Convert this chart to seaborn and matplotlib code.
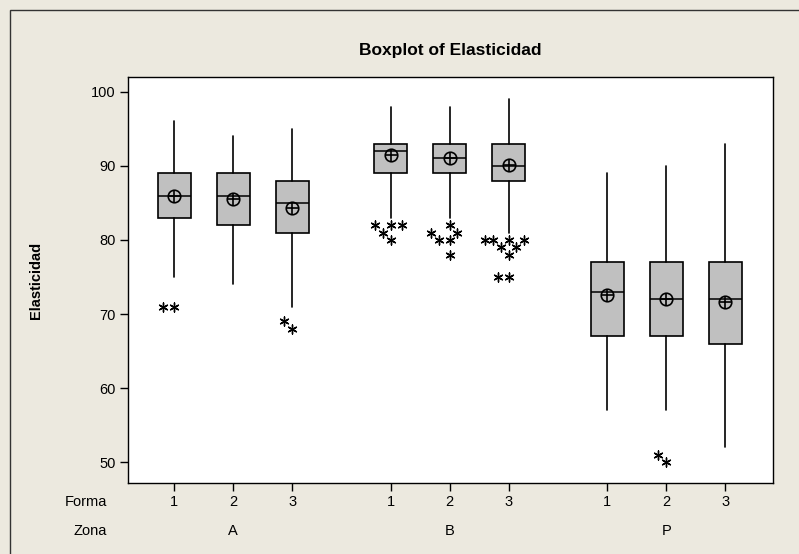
import matplotlib
matplotlib.use('Agg')
import matplotlib.pyplot as plt
import seaborn as sns
import pandas as pd
from matplotlib.patches import Rectangle

# data (Zona x Forma)
zona = ['A', 'B', 'P']
forma = ['1', '2', '3']
q1 = [83, 82, 81, 89, 89, 88, 67, 67, 66]
med = [86, 86, 85, 92, 91, 90, 73, 72, 72]
q3 = [89, 89, 88, 93, 93, 93, 77, 77, 77]
whis_lo = [75, 74, 71, 83, 83, 81, 57, 57, 52]
whis_hi = [96, 94, 95, 98, 98, 99, 89, 90, 93]
means = [86.0, 85.5, 84.3, 91.5, 91.0, 90.1, 72.6, 72.1, 71.6]
outliers = [[71, 71], [], [69, 68],
            [82, 82, 82, 81, 80], [82, 81, 81, 80, 80, 78], [80, 80, 80, 80, 79, 79, 78, 75, 75],
            [], [51, 50], []]

sns.set_theme(style='white')
plt.rcParams['font.family'] = ['Liberation Sans', 'DejaVu Sans']
plt.rcParams['text.color'] = 'black'
plt.rcParams['axes.labelcolor'] = 'black'

bg = '#ECE9DF'
W, H = 799, 554
fig = plt.figure(figsize=(W / 100, H / 100), dpi=100, facecolor=bg)
ax = fig.add_axes([128 / W, 1 - 483 / H, (773 - 128) / W, (483 - 77) / H])
ax.set_facecolor('white')

# box positions: groups of 3 with a gap between zonas
pos = [g * 3.667 + f for g in range(len(zona)) for f in range(len(forma))]

stats = []
for i in range(len(pos)):
    stats.append(dict(med=med[i], q1=q1[i], q3=q3[i], whislo=whis_lo[i],
                      whishi=whis_hi[i], fliers=[]))
ax.bxp(stats, positions=pos, widths=0.56, patch_artist=True, showcaps=False,
       showfliers=False, manage_ticks=False,
       boxprops=dict(facecolor='#C0C0C0', edgecolor='black', linewidth=1.2),
       medianprops=dict(color='black', linewidth=1.1),
       whiskerprops=dict(color='black', linewidth=1.2))

rows = [(pos[i], v) for i in range(len(pos)) for v in outliers[i]]
df_out = pd.DataFrame(rows, columns=['x', 'y'])
sns.swarmplot(data=df_out, x='x', y='y', native_scale=True, orient='x',
              marker=(6, 2, 0), color='black', size=6.5, linewidth=1, ax=ax)

ax.plot(pos, means, 'o', mfc='none', mec='black', ms=9, mew=1.2, zorder=5)
ax.plot(pos, means, '+', color='black', ms=9, mew=1.2, zorder=5)

ax.set_xlim(-0.78, pos[-1] + 0.81)
ax.set_ylim(47.2, 102)
ax.set_yticks([50, 60, 70, 80, 90, 100])
ax.set_xticks(pos)
ax.set_xticklabels(forma * len(zona))
ax.set_xlabel('')
ax.set_ylabel('')
ax.tick_params(axis='both', direction='out', length=6, width=1, color='black',
               labelsize=10.5, labelcolor='black', pad=3, bottom=True, left=True)
for s in ax.spines.values():
    s.set_color('black')
    s.set_linewidth(1)

for g, z in enumerate(zona):
    ax.annotate(z, xy=(pos[g * 3 + 1], 0), xycoords=('data', 'axes fraction'),
                xytext=(0, -48 * 0.72), textcoords='offset points',
                ha='center', va='center', fontsize=10.5, color='black')

fig.text(107 / W, 1 - 502 / H, 'Forma', ha='right', va='center', fontsize=10.5, color='black')
fig.text(107 / W, 1 - 531 / H, 'Zona', ha='right', va='center', fontsize=10.5, color='black')
fig.text(36 / W, 1 - 280 / H, 'Elasticidad', rotation=90, ha='center', va='center',
         fontsize=10.5, fontweight='bold', color='black')
fig.text(450 / W, 1 - 50 / H, 'Boxplot of Elasticidad', ha='center', va='center',
         fontsize=12.5, fontweight='bold', color='black')

fig.patches.append(Rectangle((10 / W, -0.5), 2, 1 - 10 / H + 0.5, transform=fig.transFigure,
                             fill=False, edgecolor='#333333', linewidth=1))

fig.savefig('out.png', dpi=100, facecolor=bg)
